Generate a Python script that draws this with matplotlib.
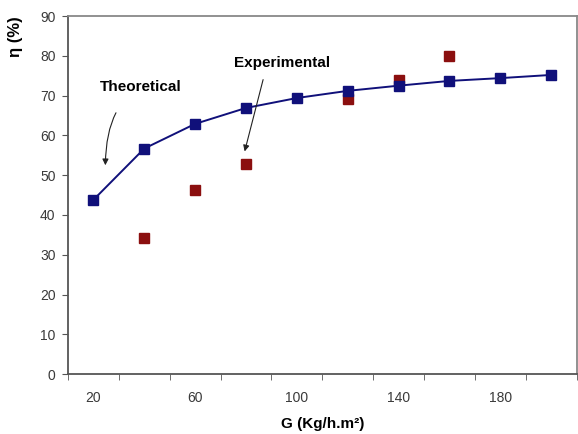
import matplotlib.pyplot as plt
import numpy as np

plt.rcParams['font.family'] = ['Liberation Sans', 'DejaVu Sans']

# datos
G = [20, 40, 60, 80, 100, 120, 140, 160, 180, 200]
eta_teo = [43.8, 56.7, 62.9, 66.9, 69.4, 71.2, 72.5, 73.7, 74.4, 75.2]
G_exp = [40, 60, 80, 120, 140, 160]
eta_exp = [34.2, 46.3, 52.7, 69.1, 74.0, 79.9]
x_labels = ['20', '60', '100', '140', '180']

fig = plt.figure(figsize=(5.78, 4.34), dpi=100)
ax = fig.add_axes([0.1176, 0.138, 0.880, 0.825])

# eje de categorias (como Excel)
pos = {g: i for i, g in enumerate(G)}
xt = [pos[g] for g in G]
xe = [pos[g] for g in G_exp]

ax.plot(xe, eta_exp, 's', color='#8b0f0f', markersize=7, zorder=2)
ax.plot(xt, eta_teo, '-s', color='#10107a', markersize=7, linewidth=1.4, zorder=3)

ax.set_xlim(-0.5, len(G) - 0.5)
ax.set_ylim(0, 90)
ax.set_yticks(np.arange(0, 91, 10))
ax.set_xticks([pos[int(l)] for l in x_labels])
ax.set_xticklabels(x_labels)
ax.set_xticks(np.arange(-0.5, len(G), 1), minor=True)
ax.tick_params(axis='x', which='major', length=0, pad=12)
ax.tick_params(axis='x', which='minor', length=4, color='#555555', direction='out')
ax.tick_params(axis='y', length=4, color='#555555', pad=5)
ax.tick_params(labelsize=10, labelcolor='#3a3a3a')

for s in ['left', 'bottom']:
    ax.spines[s].set_color('#555555')
    ax.spines[s].set_linewidth(1.3)
for s in ['top', 'right']:
    ax.spines[s].set_color('#888888')
    ax.spines[s].set_linewidth(1.3)

ax.set_xlabel('G (Kg/h.m²)', fontsize=11, fontweight='bold', labelpad=9)
ax.set_ylabel('η (%)', fontsize=12, fontweight='bold', labelpad=12, loc='top')

# anotaciones
ax.text(0.12, 72.1, 'Theoretical', fontsize=11, fontweight='bold', va='center')
ax.annotate('', xy=(0.235, 51.8), xytext=(0.47, 66.3),
            arrowprops=dict(arrowstyle='-|>', color='#222222', lw=0.8,
                            connectionstyle='angle3,angleA=60,angleB=90',
                            mutation_scale=9))
ax.text(2.76, 78.2, 'Experimental', fontsize=11, fontweight='bold', va='center')
ax.annotate('', xy=(2.96, 55.3), xytext=(3.35, 74.7),
            arrowprops=dict(arrowstyle='-|>', color='#222222', lw=0.8,
                            mutation_scale=9))

plt.savefig('out.png', dpi=100)
